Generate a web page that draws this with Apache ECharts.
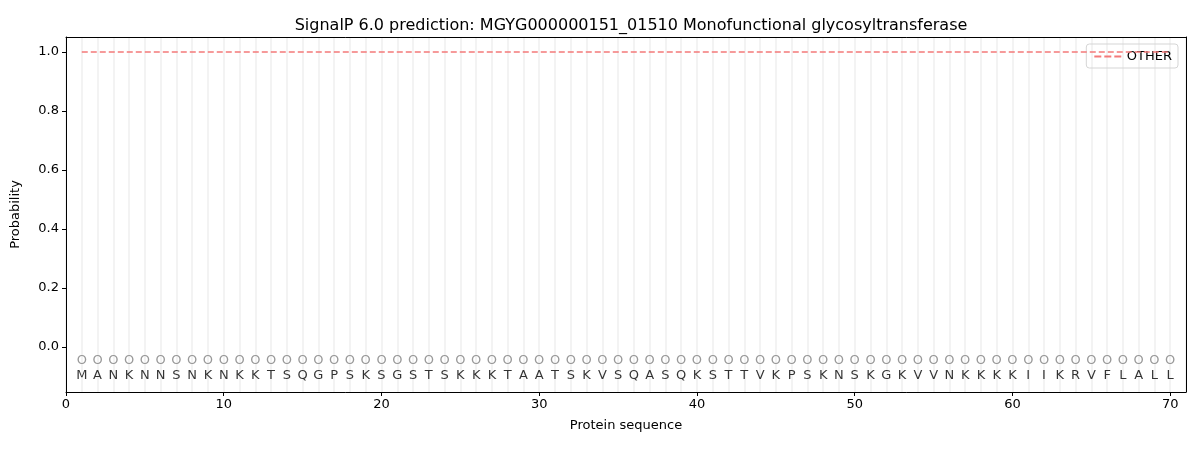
<!DOCTYPE html>
<html><head><meta charset="utf-8">
<script src="https://cdn.jsdelivr.net/npm/echarts@6/dist/echarts.min.js"></script>
<style>html,body{margin:0;padding:0;background:#fff}#c{width:1200px;height:450px}</style>
</head><body><div id="c"></div>
<script>
const residues = ['M','A','N','K','N','N','S','N','K','N','K','K','T','S','Q','G','P','S','K','S','G','S','T','S','K','K','K','T','A','A','T','S','K','V','S','Q','A','S','Q','K','S','T','T','V','K','P','S','K','N','S','K','G','K','V','V','N','K','K','K','K','I','I','K','R','V','F','L','A','L','L'];
const predLabels = residues.map(() => 'O');
const otherProb = residues.map(() => 1.0);
const xTicks = [0,10,20,30,40,50,60,70];
const yTicks = [0,0.2,0.4,0.6,0.8,1.0];
const positions = residues.map((_, i) => i + 1);

const font = 'DejaVu Sans';
const lineColor = '#f47a7a';
const chart = echarts.init(document.getElementById('c'));
chart.setOption({
  animation: false,
  textStyle: {fontFamily: font},
  title: {text: 'SignalP 6.0 prediction: MGYG000000151_01510 Monofunctional glycosyltransferase',
    left: 626, top: 13, textAlign: 'center',
    textStyle: {fontFamily: font, fontSize: 16, fontWeight: 'normal', color: '#000'}},
  legend: {right: 22, top: 44, orient: 'vertical',
    data: [{name: 'OTHER', icon: 'path://M0,0h7v2h-7z M10,0h7v2h-7z M20,0h7v2h-7z'}],
    borderColor: '#d5d5d5', borderWidth: 1, borderRadius: 3, padding: [6, 6, 5, 8],
    itemWidth: 28, itemHeight: 2, itemGap: 5, textStyle: {fontFamily: font, fontSize: 13, color: '#000'}},
  grid: {left: 66, right: 14, top: 37, bottom: 58},
  xAxis: [{type: 'value', min: 0, max: 71,
    name: 'Protein sequence', nameLocation: 'middle', nameGap: 27,
    nameTextStyle: {fontFamily: font, fontSize: 13, color: '#000'},
    axisLine: {show: true, onZero: false, lineStyle: {color: '#000', width: 1}},
    axisTick: {show: true, length: 4, lineStyle: {color: '#000'}, customValues: xTicks},
    axisLabel: {color: '#000', fontSize: 13, fontFamily: font, customValues: xTicks, margin: 6},
    splitLine: {show: false}},
   {type: 'value', min: 0, max: 71, interval: 1, position: 'top',
    axisLine: {show: true, onZero: false, lineStyle: {color: '#000'}}, axisTick: {show: false}, axisLabel: {show: false},
    splitLine: {show: true, lineStyle: {color: '#f3f3f3', width: 2}}}],
  yAxis: [{type: 'value', min: -0.153, max: 1.051,
    name: 'Probability', nameLocation: 'middle', nameGap: 44, nameRotate: 90,
    nameTextStyle: {fontFamily: font, fontSize: 13, color: '#000'},
    axisLine: {show: true, onZero: false, lineStyle: {color: '#000'}},
    axisTick: {show: true, length: 4, lineStyle: {color: '#000'}, customValues: yTicks},
    axisLabel: {color: '#000', fontSize: 13, fontFamily: font, customValues: yTicks, margin: 7,
      formatter: v => v.toFixed(1)},
    splitLine: {show: false}},
   {type: 'value', min: -0.153, max: 1.051, position: 'right',
    axisLine: {show: true, onZero: false, lineStyle: {color: '#000'}}, axisTick: {show: false},
    axisLabel: {show: false}, splitLine: {show: false}}],
  series: [
    {name: 'OTHER', type: 'line', xAxisIndex: 0, yAxisIndex: 0, data: positions.map((p, i) => [p, otherProb[i]]),
      symbol: 'none', lineStyle: {color: lineColor, width: 1.6, type: [6, 3]},
      itemStyle: {color: lineColor}, z: 5},
    {type: 'scatter', xAxisIndex: 0, yAxisIndex: 0, data: positions.map((p, i) => [p, -0.047, predLabels[i]]),
      symbolSize: 0, silent: true,
      label: {show: true, position: 'inside', formatter: p => p.value[2], color: '#808080', fontSize: 13, fontFamily: font}},
    {type: 'scatter', xAxisIndex: 0, yAxisIndex: 0, data: positions.map((p, i) => [p, -0.098, residues[i]]),
      symbolSize: 0, silent: true,
      label: {show: true, position: 'inside', formatter: p => p.value[2], color: '#000', fontSize: 13, fontFamily: font}}
  ]
});
</script></body></html>
